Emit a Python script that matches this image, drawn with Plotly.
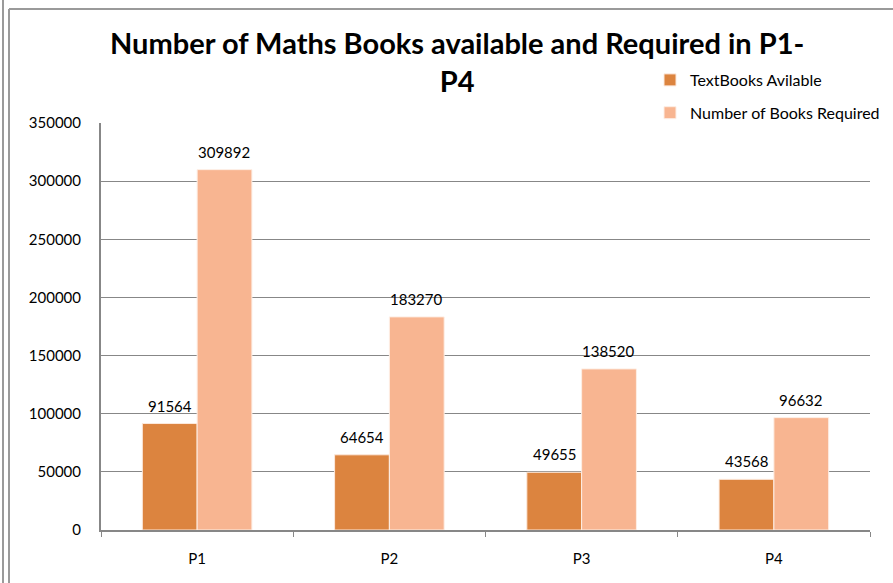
import plotly.graph_objects as go

# Data
categories = ["P1", "P2", "P3", "P4"]
available = [91564, 64654, 49655, 43568]
required = [309892, 183270, 138520, 96632]
y_ticks = [0, 50000, 100000, 150000, 200000, 250000, 300000, 350000]

W, H = 893, 583
ML, MR, MT, MB = 101, 23, 123, 53
PW, PH = W - ML - MR, H - MT - MB

FONT = "Lato, 'Open Sans', sans-serif"
ORANGE = "#DC843F"
PEACH = "#F8B591"
GRID = "#878787"
BAR_OFFSET = 27  # half a bar width, in px


def px_x(x):
    return (x - ML) / PW


def px_y(y):
    return (H - MB - y) / PH


fig = go.Figure()
fig.add_trace(go.Bar(
    x=categories, y=available, name="TextBooks Avilable",
    marker=dict(color=ORANGE, line=dict(color="#FCE9DC", width=1)),
    legendgroup="a",
))
fig.add_trace(go.Bar(
    x=categories, y=required, name="Number of Books Required",
    marker=dict(color=PEACH, line=dict(color="#FDEEE5", width=1)),
    legendgroup="b",
))

# Value labels above each bar
annotations = []
for series, shift in ((available, -BAR_OFFSET), (required, BAR_OFFSET)):
    for cat, val in zip(categories, series):
        annotations.append(dict(
            x=cat, y=val, xref="x", yref="y", text=str(val),
            showarrow=False, xanchor="center", yanchor="bottom",
            xshift=shift, yshift=7,
            font=dict(size=15, family=FONT, color="#000000"),
        ))

# Chart title
annotations.append(dict(
    x=px_x(457), y=px_y(23), xref="paper", yref="paper",
    text="<b>Number of Maths Books available and Required in P1-<br>P4</b>",
    showarrow=False, xanchor="center", yanchor="top", align="center",
    font=dict(size=29, family=FONT, color="#000000"),
))

# Outer frame lines
shapes = [
    dict(type="line", xref="paper", yref="paper",
         x0=px_x(3), x1=px_x(3), y0=px_y(0), y1=px_y(H),
         line=dict(color="#9A9A9A", width=2)),
    dict(type="line", xref="paper", yref="paper",
         x0=px_x(9), x1=px_x(9), y0=px_y(9), y1=px_y(H),
         line=dict(color="#9A9A9A", width=2)),
    dict(type="line", xref="paper", yref="paper",
         x0=px_x(9), x1=px_x(W), y0=px_y(9), y1=px_y(9),
         line=dict(color="#9A9A9A", width=2)),
]

fig.update_layout(
    width=W, height=H,
    margin=dict(l=ML, r=MR, t=MT, b=MB, autoexpand=False),
    paper_bgcolor="white", plot_bgcolor="white",
    font=dict(family=FONT, size=15, color="#000000"),
    barmode="group", bargap=0.43, bargroupgap=0.0,
    legend=dict(
        x=px_x(650), y=px_y(63), xref="paper", yref="paper",
        xanchor="left", yanchor="top",
        font=dict(size=16, family=FONT, color="#000000"),
        bgcolor="rgba(0,0,0,0)", traceorder="grouped", tracegroupgap=9,
        itemwidth=30,
    ),
    xaxis=dict(
        showline=True, linecolor=GRID, linewidth=2,
        ticks="outside", tickson="boundaries", ticklen=5, tickcolor=GRID,
        tickfont=dict(size=15), showgrid=False, ticklabelstandoff=14,
    ),
    yaxis=dict(
        range=[0, 350000], tickvals=y_ticks,
        ticktext=[str(v) for v in y_ticks],
        showline=True, linecolor=GRID, linewidth=2,
        showgrid=True, gridcolor=GRID, gridwidth=1,
        zeroline=False, ticks="", ticklabelstandoff=15,
        tickfont=dict(size=15),
    ),
    annotations=annotations,
    shapes=shapes,
)

fig.write_html("out.html")
